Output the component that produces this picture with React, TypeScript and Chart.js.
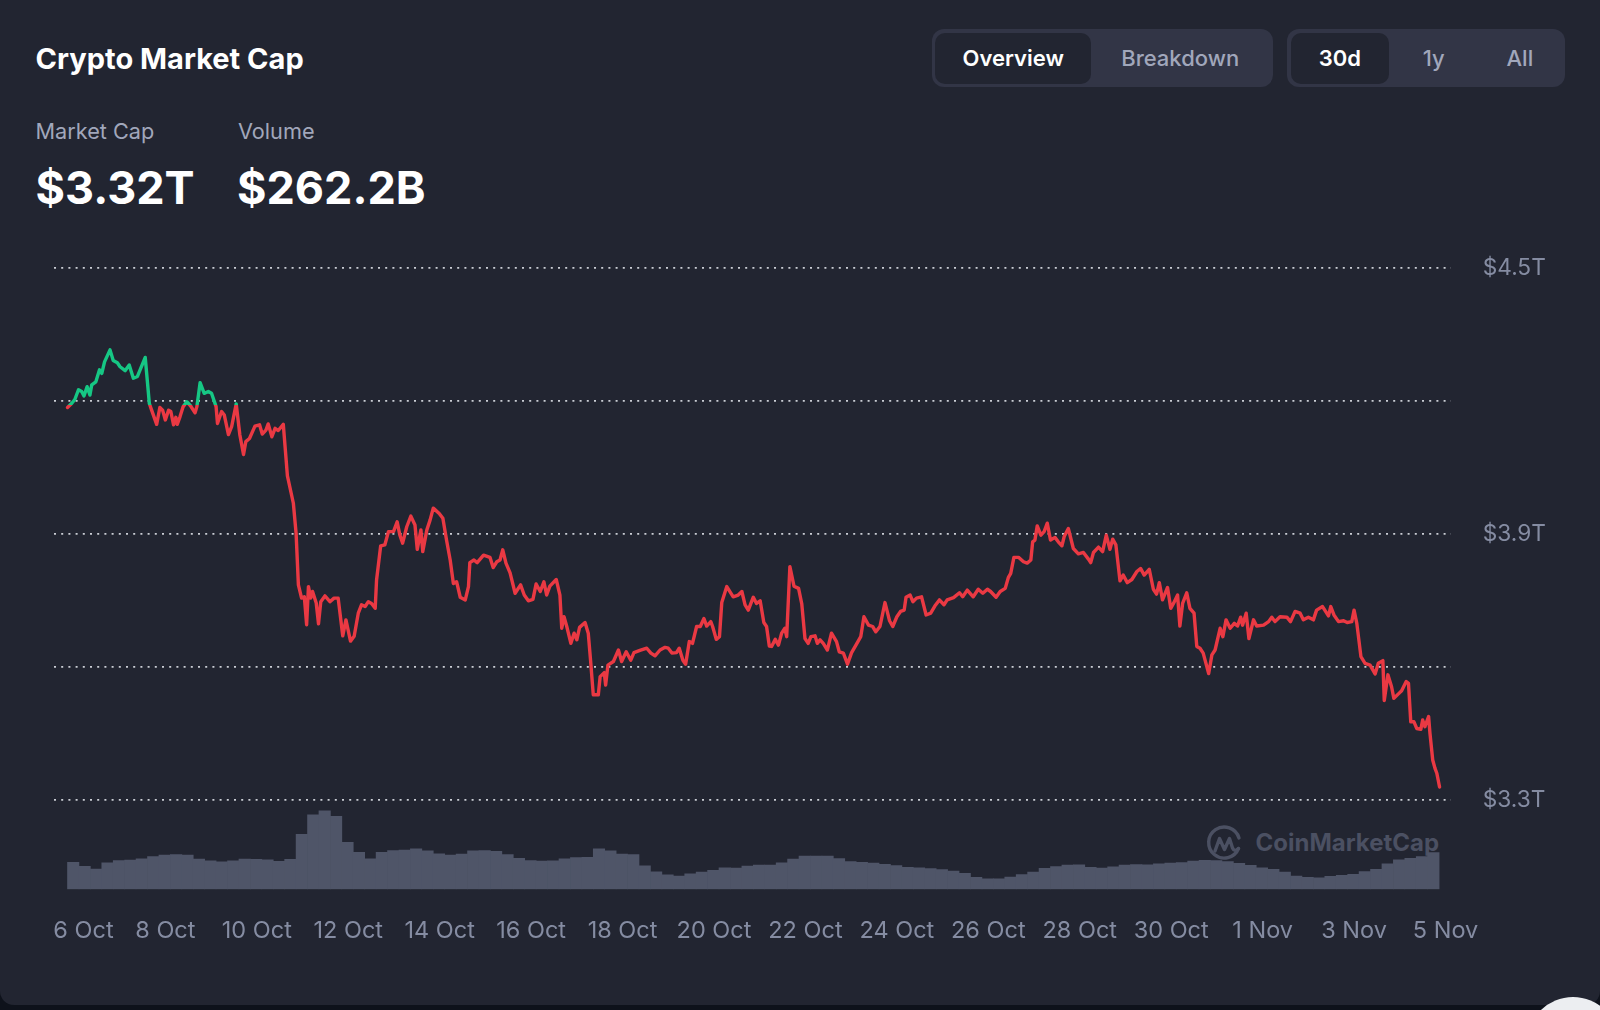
import React, { useEffect, useRef } from 'react';
import { Chart, registerables } from 'chart.js';

Chart.register(...registerables);

// ---- data (days since 6 Oct 00:00, market cap in $T) ----
const capDays = [
  -0.14, -0.05, 0.02, 0.10, 0.17, 0.22, 0.29, 0.35, 0.39, 0.48, 0.56, 0.61, 0.67, 0.79, 0.86, 0.95,
  1.01, 1.12, 1.21, 1.30, 1.39, 1.56, 1.65, 1.70, 1.81, 1.88, 1.94, 2.00, 2.07, 2.12, 2.18, 2.23,
  2.26, 2.32, 2.39, 2.47, 2.55, 2.65, 2.69, 2.76, 2.85, 2.94, 3.01, 3.11, 3.14, 3.23, 3.29, 3.38,
  3.45, 3.55, 3.63, 3.71, 3.76, 3.84, 3.96, 4.06, 4.12, 4.20, 4.25, 4.33, 4.40, 4.47, 4.58, 4.67,
  4.80, 4.86, 4.91, 4.98, 5.04, 5.09, 5.13, 5.18, 5.22, 5.30, 5.35, 5.40, 5.49, 5.60, 5.69, 5.78,
  5.88, 5.95, 6.05, 6.13, 6.22, 6.29, 6.37, 6.44, 6.51, 6.59, 6.62, 6.71, 6.80, 6.88, 6.99, 7.07,
  7.13, 7.19, 7.28, 7.37, 7.46, 7.51, 7.59, 7.63, 7.72, 7.79, 7.86, 7.99, 8.07, 8.15, 8.23, 8.30,
  8.37, 8.45, 8.56, 8.63, 8.66, 8.75, 8.82, 8.96, 9.10, 9.17, 9.25, 9.32, 9.38, 9.45, 9.54, 9.65,
  9.77, 9.85, 9.94, 10.04, 10.11, 10.20, 10.28, 10.34, 10.41, 10.55, 10.63, 10.67, 10.72, 10.78, 10.87, 10.94,
  11.00, 11.06, 11.18, 11.25, 11.30, 11.36, 11.47, 11.51, 11.60, 11.63, 11.68, 11.80, 11.91, 11.98, 12.08, 12.18,
  12.25, 12.38, 12.53, 12.62, 12.71, 12.82, 12.93, 13.00, 13.08, 13.18, 13.24, 13.32, 13.38, 13.46, 13.53, 13.62,
  13.70, 13.78, 13.84, 13.93, 13.97, 14.05, 14.12, 14.17, 14.28, 14.42, 14.53, 14.61, 14.68, 14.75, 14.86, 14.93,
  15.01, 15.09, 15.15, 15.21, 15.26, 15.34, 15.41, 15.48, 15.55, 15.59, 15.66, 15.75, 15.85, 15.92, 15.99, 16.06,
  16.12, 16.21, 16.26, 16.32, 16.39, 16.48, 16.57, 16.68, 16.74, 16.83, 16.92, 17.01, 17.12, 17.21, 17.28, 17.38,
  17.47, 17.54, 17.63, 17.74, 17.84, 17.91, 18.00, 18.08, 18.16, 18.20, 18.29, 18.35, 18.43, 18.54, 18.64, 18.74,
  18.83, 18.93, 19.03, 19.10, 19.24, 19.37, 19.44, 19.54, 19.67, 19.78, 19.88, 19.98, 20.05, 20.17, 20.26, 20.37,
  20.44, 20.49, 20.56, 20.66, 20.77, 20.85, 20.93, 20.97, 21.02, 21.07, 21.15, 21.22, 21.29, 21.36, 21.46, 21.53,
  21.61, 21.66, 21.75, 21.86, 21.97, 22.08, 22.19, 22.24, 22.30, 22.41, 22.50, 22.58, 22.66, 22.72, 22.79, 22.88,
  22.95, 23.04, 23.14, 23.25, 23.33, 23.41, 23.52, 23.61, 23.68, 23.74, 23.81, 23.92, 23.99, 24.05, 24.14, 24.19,
  24.25, 24.34, 24.41, 24.50, 24.56, 24.63, 24.70, 24.82, 24.89, 24.96, 25.07, 25.13, 25.20, 25.29, 25.38, 25.45,
  25.52, 25.56, 25.64, 25.70, 25.80, 25.87, 26.02, 26.13, 26.20, 26.27, 26.38, 26.53, 26.61, 26.71, 26.82, 26.89,
  27.00, 27.11, 27.18, 27.31, 27.44, 27.49, 27.56, 27.66, 27.77, 27.85, 27.95, 28.00, 28.06, 28.15, 28.24, 28.35,
  28.46, 28.53, 28.63, 28.66, 28.74, 28.82, 28.87, 28.97, 29.04, 29.14, 29.19, 29.24, 29.31, 29.37, 29.46, 29.50,
  29.55, 29.63, 29.66, 29.72, 29.77, 29.81, 29.87,
];

const capValues = [
  4.186, 4.195, 4.204, 4.226, 4.222, 4.212, 4.233, 4.214, 4.237, 4.244, 4.271, 4.263, 4.289, 4.316, 4.292, 4.287,
  4.278, 4.269, 4.282, 4.252, 4.256, 4.299, 4.195, 4.180, 4.148, 4.186, 4.180, 4.158, 4.180, 4.177, 4.147, 4.164,
  4.148, 4.165, 4.188, 4.199, 4.190, 4.174, 4.188, 4.242, 4.218, 4.222, 4.218, 4.188, 4.150, 4.177, 4.169, 4.125,
  4.143, 4.194, 4.124, 4.080, 4.109, 4.116, 4.144, 4.147, 4.126, 4.135, 4.149, 4.120, 4.139, 4.134, 4.148, 4.032,
  3.970, 3.902, 3.786, 3.756, 3.759, 3.696, 3.782, 3.756, 3.771, 3.745, 3.698, 3.748, 3.761, 3.748, 3.756, 3.756,
  3.671, 3.707, 3.659, 3.670, 3.722, 3.741, 3.737, 3.748, 3.744, 3.733, 3.797, 3.874, 3.876, 3.906, 3.906, 3.928,
  3.898, 3.880, 3.917, 3.941, 3.921, 3.866, 3.910, 3.861, 3.910, 3.932, 3.959, 3.947, 3.936, 3.887, 3.842, 3.789,
  3.793, 3.758, 3.752, 3.782, 3.836, 3.842, 3.836, 3.853, 3.848, 3.825, 3.838, 3.842, 3.865, 3.835, 3.813, 3.767,
  3.786, 3.763, 3.750, 3.753, 3.788, 3.771, 3.793, 3.763, 3.783, 3.798, 3.763, 3.688, 3.714, 3.692, 3.654, 3.677,
  3.662, 3.690, 3.701, 3.677, 3.616, 3.538, 3.538, 3.579, 3.588, 3.560, 3.605, 3.613, 3.639, 3.613, 3.635, 3.616,
  3.633, 3.638, 3.643, 3.632, 3.626, 3.639, 3.645, 3.643, 3.632, 3.633, 3.643, 3.616, 3.607, 3.658, 3.654, 3.692,
  3.692, 3.710, 3.693, 3.703, 3.692, 3.663, 3.669, 3.746, 3.782, 3.759, 3.763, 3.771, 3.741, 3.729, 3.758, 3.744,
  3.750, 3.701, 3.692, 3.648, 3.647, 3.663, 3.650, 3.677, 3.688, 3.669, 3.827, 3.783, 3.778, 3.743, 3.665, 3.654,
  3.669, 3.671, 3.654, 3.662, 3.654, 3.639, 3.677, 3.658, 3.635, 3.632, 3.607, 3.633, 3.653, 3.669, 3.714, 3.695,
  3.692, 3.680, 3.692, 3.746, 3.705, 3.692, 3.714, 3.726, 3.729, 3.758, 3.763, 3.748, 3.756, 3.759, 3.718, 3.722,
  3.738, 3.752, 3.741, 3.752, 3.757, 3.768, 3.759, 3.774, 3.759, 3.776, 3.767, 3.776, 3.771, 3.758, 3.771, 3.778,
  3.803, 3.812, 3.848, 3.848, 3.838, 3.835, 3.842, 3.883, 3.887, 3.919, 3.898, 3.906, 3.925, 3.887, 3.893, 3.883,
  3.874, 3.895, 3.913, 3.868, 3.856, 3.859, 3.844, 3.836, 3.859, 3.871, 3.861, 3.898, 3.866, 3.889, 3.876, 3.795,
  3.808, 3.791, 3.798, 3.816, 3.823, 3.808, 3.821, 3.776, 3.765, 3.791, 3.752, 3.780, 3.733, 3.744, 3.763, 3.693,
  3.744, 3.768, 3.733, 3.722, 3.647, 3.643, 3.632, 3.586, 3.628, 3.639, 3.688, 3.669, 3.707, 3.688, 3.699, 3.693,
  3.713, 3.695, 3.722, 3.665, 3.707, 3.693, 3.695, 3.703, 3.713, 3.703, 3.714, 3.713, 3.703, 3.726, 3.722, 3.707,
  3.713, 3.707, 3.729, 3.737, 3.716, 3.737, 3.718, 3.703, 3.705, 3.701, 3.703, 3.729, 3.699, 3.624, 3.609, 3.605,
  3.585, 3.609, 3.615, 3.525, 3.583, 3.556, 3.530, 3.540, 3.547, 3.568, 3.564, 3.477, 3.477, 3.462, 3.460, 3.481,
  3.466, 3.489, 3.451, 3.391, 3.372, 3.361, 3.330,
];

// opening level of the period: above it the line is green, below it red
const capBaseline = 4.192;

// 24h volume in $B, one bar every 6 hours starting at volStart (days)
const volStart = -0.015;
const volStep = 0.25;
const volumes = [
  187, 159, 140, 183, 199, 203, 211, 227, 237, 240,
  237, 209, 197, 190, 198, 210, 208, 204, 194, 208,
  381, 516, 543, 505, 325, 256, 211, 256, 268, 271,
  280, 266, 246, 237, 244, 266, 268, 263, 240, 215,
  199, 196, 198, 211, 220, 221, 280, 266, 244, 240,
  163, 121, 100, 91, 107, 120, 131, 149, 147, 161,
  168, 168, 183, 210, 230, 230, 230, 213, 192, 187,
  181, 173, 165, 152, 148, 144, 137, 127, 111, 83,
  73, 73, 85, 102, 120, 145, 157, 168, 170, 152,
  147, 156, 168, 172, 170, 176, 182, 185, 196, 201,
  199, 192, 180, 166, 149, 139, 120, 91, 83, 80,
  89, 97, 104, 122, 138, 176, 204, 215, 226, 255,
];

const xTickLabels = [
  '6 Oct', '8 Oct', '10 Oct', '12 Oct', '14 Oct', '16 Oct', '18 Oct', '20 Oct',
  '22 Oct', '24 Oct', '26 Oct', '28 Oct', '30 Oct', '1 Nov', '3 Nov', '5 Nov',
];
const xTickStepDays = 2;
const xFirstLabelDay = 0.21; // first label is pushed inside the plot edge

const yTickValues = [3.3, 3.6, 3.9, 4.2, 4.5];
const yTickLabels = ['$3.3T', '', '$3.9T', '', '$4.5T'];

const GREEN = '#16c784';
const RED = '#ea3943';
const AXIS_TEXT = '#858ca2';
const FONT = 'Inter, "Noto Sans", sans-serif';

function CmcLogo() {
  return (
    <svg width="40" height="40" viewBox="0 0 40 40" style={{ position: 'absolute', left: 1204, top: 823 }}>
      <path d="M34.5 25.5 A15.5 15.5 0 1 1 35 15" fill="none" stroke="#4b5062" strokeWidth="3.4" strokeLinecap="round" />
      <path d="M11 28 L15.5 15.5 L20.5 26.5 L25.5 15.5 L28.5 25 Q30.5 29.5 34.5 25.5" fill="none" stroke="#4b5062" strokeWidth="3.4" strokeLinecap="round" strokeLinejoin="round" />
    </svg>
  );
}

export default function App() {
  const canvasRef = useRef<HTMLCanvasElement | null>(null);

  useEffect(() => {
    document.body.style.margin = '0';
    const canvas = canvasRef.current;
    if (!canvas) return;

    const lineData = capDays.map((d, i) => ({ x: d, y: capValues[i] }));
    const volData = volumes.map((v, i) => ({ x: volStart + i * volStep, y: v }));

    const chart = new Chart(canvas, {
      type: 'line',
      data: {
        datasets: [
          {
            type: 'line',
            label: 'Market Cap',
            data: lineData,
            yAxisID: 'y',
            borderWidth: 3.4,
            pointRadius: 0,
            tension: 0,
            borderJoinStyle: 'round',
            borderCapStyle: 'round',
            order: 0,
            borderColor: (ctx: any) => {
              const c = ctx.chart;
              const area = c.chartArea;
              const ys = c.scales && c.scales.y;
              if (!area || !ys) return RED;
              const yb = ys.getPixelForValue(capBaseline);
              const t = Math.min(Math.max((yb - area.top) / (area.bottom - area.top), 0), 1);
              const g = c.ctx.createLinearGradient(0, area.top, 0, area.bottom);
              g.addColorStop(0, GREEN);
              g.addColorStop(t, GREEN);
              g.addColorStop(t, RED);
              g.addColorStop(1, RED);
              return g;
            },
          } as any,
          {
            type: 'bar',
            label: 'Volume',
            data: volData,
            yAxisID: 'yv',
            backgroundColor: '#4f5568',
            borderWidth: 0,
            barPercentage: 1,
            categoryPercentage: 1,
            order: 1,
          } as any,
        ],
      },
      options: {
        responsive: false,
        animation: false,
        events: [],
        layout: { padding: { left: 54, top: 48.3, right: 0, bottom: 0 } },
        plugins: { legend: { display: false }, tooltip: { enabled: false } },
        scales: {
          x: {
            type: 'linear',
            min: -0.4353,
            max: 30.12,
            bounds: 'data',
            offset: false,
            grid: { display: false, drawTicks: false },
            border: { display: false },
            afterBuildTicks: (s: any) => {
              s.ticks = xTickLabels.map((_, i) => ({ value: i === 0 ? xFirstLabelDay : i * xTickStepDays }));
            },
            afterFit: (s: any) => {
              s.height = 80.7;
            },
            ticks: {
              autoSkip: false,
              maxRotation: 0,
              padding: 27.5,
              color: AXIS_TEXT,
              font: { family: FONT, size: 23.5 },
              callback: (_v: any, i: number) => xTickLabels[i],
            },
          },
          y: {
            type: 'linear',
            position: 'right',
            min: 3.0992,
            max: 4.5,
            bounds: 'data',
            afterBuildTicks: (s: any) => {
              s.ticks = yTickValues.map((v) => ({ value: v }));
            },
            afterFit: (s: any) => {
              s.width = 149;
            },
            grid: { color: 'rgba(222,225,232,0.9)', lineWidth: 1.8, drawTicks: false },
            border: { display: false, dash: [2, 5.2] },
            ticks: {
              padding: 31.7,
              color: AXIS_TEXT,
              font: { family: FONT, size: 22.7 },
              callback: (_v: any, i: number) => yTickLabels[i],
            },
          },
          yv: {
            type: 'linear',
            display: false,
            min: 0,
            max: 4300,
          },
        },
      } as any,
    });

    return () => chart.destroy();
  }, []);

  const abs = (s: React.CSSProperties): React.CSSProperties => ({ position: 'absolute', lineHeight: 1, whiteSpace: 'nowrap', ...s });

  const btn = (label: string, width: number, active: boolean) => (
    <div
      key={label}
      style={{
        width,
        height: 50.6,
        borderRadius: 10,
        background: active ? '#222531' : 'transparent',
        color: active ? '#ffffff' : '#a1a7bb',
        fontWeight: active ? 600 : 500,
        fontSize: 22,
        lineHeight: 1,
        display: 'flex',
        alignItems: 'center',
        justifyContent: 'center',
        flex: 'none',
      }}
    >
      {label}
    </div>
  );

  const group = (left: number, width: number, children: React.ReactNode) => (
    <div
      style={{
        position: 'absolute',
        left,
        top: 29.3,
        width,
        height: 58,
        borderRadius: 12,
        background: '#323546',
        display: 'flex',
        alignItems: 'center',
        padding: '0 3.6px',
        boxSizing: 'border-box',
      }}
    >
      {children}
    </div>
  );

  return (
    <div style={{ position: 'relative', width: 1600, height: 1010, overflow: 'hidden', background: '#0e121b', fontFamily: FONT }}>
      <div style={{ position: 'absolute', left: 0, top: -20, width: 1600, height: 1025, borderRadius: 14, background: '#222531' }} />

      <div style={abs({ left: 35.6, top: 43.5, fontSize: 29, fontWeight: 700, color: '#ffffff' })}>Crypto Market Cap</div>

      <div style={abs({ left: 35.5, top: 120.6, fontSize: 21.7, color: '#a1a7bb' })}>Market Cap</div>
      <div style={abs({ left: 238, top: 120.6, fontSize: 21.7, color: '#a1a7bb' })}>Volume</div>
      <div style={abs({ left: 35.6, top: 165.1, fontSize: 45, fontWeight: 700, color: '#ffffff' })}>$3.32T</div>
      <div style={abs({ left: 237, top: 165.1, fontSize: 45, fontWeight: 700, color: '#ffffff' })}>$262.2B</div>

      {group(931.6, 341.4, [btn('Overview', 156, true), btn('Breakdown', 178, false)])}
      {group(1287, 278, [btn('30d', 98.5, true), btn('1y', 89, false), btn('All', 83.5, false)])}

      <CmcLogo />
      <div style={abs({ left: 1255.5, top: 831, fontSize: 24, fontWeight: 700, color: '#4b5062' })}>CoinMarketCap</div>

      <canvas ref={canvasRef} width={1600} height={750} style={{ position: 'absolute', left: 0, top: 220, width: 1600, height: 750 }} />

      <div style={{ position: 'absolute', left: 1527, top: 997, width: 92, height: 92, borderRadius: '50%', background: '#eceef1' }} />
    </div>
  );
}
